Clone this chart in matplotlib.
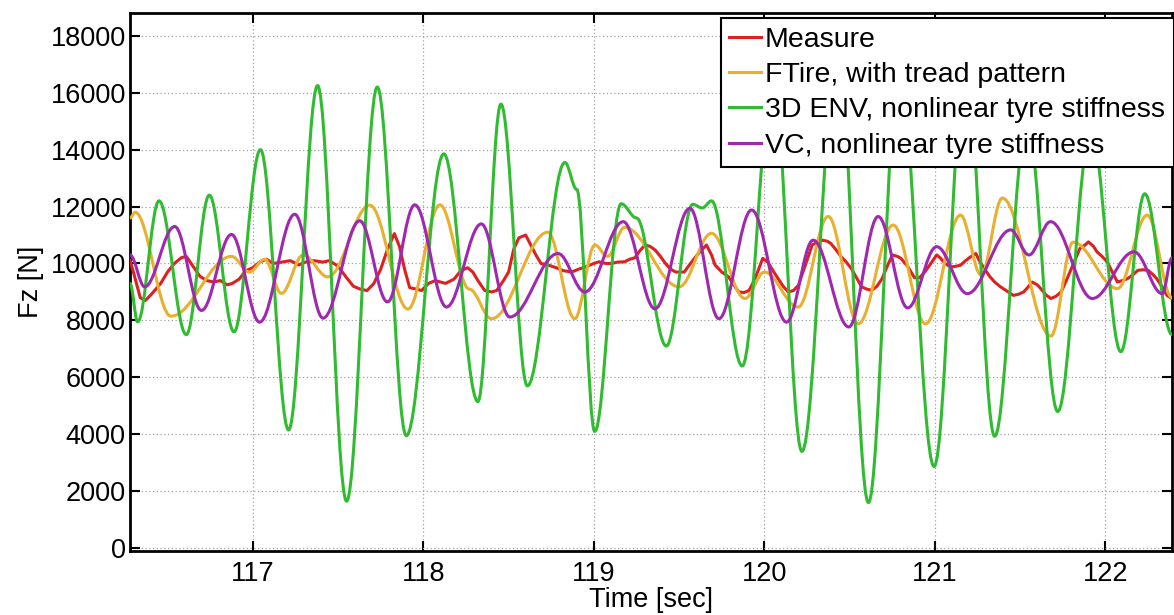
import matplotlib
matplotlib.use("Agg")
import matplotlib.pyplot as plt
from matplotlib.path import Path
from matplotlib.patches import PathPatch
from matplotlib.lines import Line2D

plt.rcParams['font.family'] = ['Liberation Sans', 'DejaVu Sans']

# ---- data: vertical tyre force Fz [N] versus time [s] ----
labels = ["Measure", "FTire, with tread pattern",
          "3D ENV, nonlinear tyre stiffness", "VC, nonlinear tyre stiffness"]
colors = ["#dd2020", "#e8b030", "#30bb30", "#a028b0"]

# measured signal (sampled points)
measure_t = [116.28, 116.30, 116.34, 116.37, 116.41, 116.46, 116.50, 116.54, 116.58, 116.61,
             116.65, 116.69, 116.73, 116.77, 116.81, 116.85, 116.88, 116.92, 116.96, 117.00,
             117.04, 117.08, 117.12, 117.17, 117.22, 117.27, 117.31, 117.36, 117.41, 117.45,
             117.50, 117.55, 117.59, 117.63, 117.67, 117.71, 117.75, 117.79, 117.83, 117.86,
             117.89, 117.92, 117.96, 117.99, 118.03, 118.07, 118.10, 118.13, 118.18, 118.22,
             118.26, 118.29, 118.32, 118.36, 118.40, 118.43, 118.47, 118.50, 118.53, 118.56,
             118.60, 118.63, 118.66, 118.69, 118.73, 118.78, 118.82, 118.87, 118.91, 118.95,
             119.00, 119.03, 119.07, 119.10, 119.14, 119.18, 119.21, 119.24, 119.27, 119.30,
             119.33, 119.36, 119.39, 119.42, 119.45, 119.48, 119.53, 119.56, 119.59, 119.62,
             119.66, 119.69, 119.71, 119.75, 119.79, 119.82, 119.85, 119.88, 119.91, 119.94,
             119.96, 119.99, 120.02, 120.05, 120.08, 120.11, 120.14, 120.17, 120.20, 120.22,
             120.24, 120.26, 120.28, 120.31, 120.34, 120.37, 120.39, 120.42, 120.45, 120.48,
             120.51, 120.54, 120.57, 120.60, 120.63, 120.66, 120.69, 120.72, 120.75, 120.78,
             120.80, 120.84, 120.88, 120.91, 120.94, 120.97, 121.01, 121.03, 121.06, 121.09,
             121.12, 121.15, 121.18, 121.21, 121.24, 121.26, 121.29, 121.32, 121.35, 121.38,
             121.40, 121.43, 121.46, 121.49, 121.52, 121.55, 121.57, 121.60, 121.62, 121.65,
             121.68, 121.71, 121.74, 121.77, 121.80, 121.83, 121.85, 121.88, 121.90, 121.93,
             121.95, 121.98, 122.01, 122.04, 122.07, 122.10, 122.13, 122.16, 122.19, 122.22,
             122.25, 122.28, 122.30, 122.33, 122.36, 122.39]
measure_v = [10100, 9700, 8800, 8700, 8950, 9300, 9700, 10000, 10200, 10250,
             9900, 9550, 9400, 9350, 9400, 9250, 9300, 9450, 9750, 9850,
             10050, 10150, 10000, 10050, 10100, 9950, 10050, 10100, 10050, 10100,
             9900, 9500, 9200, 9100, 9050, 9300, 9800, 10500, 11050, 10600,
             9800, 9150, 9100, 9050, 9300, 9400, 9350, 9300, 9450, 9750,
             9850, 9700, 9400, 9050, 9000, 9050, 9400, 9700, 10500, 10900,
             11000, 10650, 10300, 10000, 9950, 9850, 9750, 9700, 9800, 9880,
             10000, 10060, 10000, 10000, 10050, 10060, 10150, 10200, 10450, 10650,
             10600, 10470, 10250, 10000, 9800, 9700, 9700, 9950, 10180, 10400,
             10650, 10300, 9950, 9700, 9530, 9250, 9000, 8980, 9050, 9400,
             9700, 10180, 10050, 9750, 9470, 9200, 9000, 9050, 9240, 9600,
             9940, 10300, 10650, 10750, 10820, 10780, 10700, 10480, 10240, 10050,
             9820, 9500, 9180, 9100, 9060, 9200, 9470, 9900, 10300, 10250,
             10180, 9900, 9500, 9500, 9700, 9950, 10300, 10200, 10000, 9880,
             9900, 9940, 10100, 10240, 10350, 10100, 9820, 9550, 9350, 9200,
             9120, 9000, 8880, 8920, 9000, 9200, 9350, 9250, 9120, 8900,
             8770, 8850, 9000, 9400, 9820, 10250, 10530, 10650, 10760, 10600,
             10410, 10250, 10060, 9700, 9350, 9400, 9470, 9600, 9760, 9780,
             9760, 9600, 9470, 9200, 8880, 8770]

# simulated signals: turning points (time, force)
ftire_t = [116.28, 116.31, 116.52, 116.875, 116.98, 117.07, 117.168, 117.295, 117.44, 117.686,
           117.91, 118.097, 118.27, 118.40, 118.73, 118.888, 119.006, 119.08, 119.18, 119.50,
           119.69, 119.886, 120.00, 120.198, 120.374, 120.55, 120.755, 120.945, 121.15, 121.27,
           121.395, 121.68, 121.81, 122.07, 122.245, 122.39]
ftire_v = [11600, 11800, 8150, 10250, 9700, 10150, 8950, 10300, 9530, 12050,
           8400, 12060, 9100, 8060, 11100, 8060, 10650, 10250, 11270, 9180,
           11060, 8770, 9700, 8470, 11650, 7880, 11350, 7880, 11700, 9600,
           12300, 7450, 10750, 9120, 11700, 8800]

env_t = [116.28, 116.325, 116.45, 116.61, 116.745, 116.89, 117.045, 117.21, 117.38, 117.55,
         117.73, 117.90, 118.12, 118.32, 118.455, 118.61, 118.83, 118.90, 119.005, 119.16,
         119.25, 119.425, 119.58, 119.635, 119.69, 119.87, 120.05, 120.22, 120.43, 120.61,
         120.79, 120.995, 121.18, 121.35, 121.54, 121.72, 121.915, 122.09, 122.23, 122.39]
env_v = [9300, 7950, 12200, 7500, 12400, 7600, 14000, 4150, 16250, 1650,
         16200, 3950, 13850, 5150, 15600, 5700, 13550, 12600, 4100, 12100,
         11600, 7100, 12080, 11950, 12200, 6400, 16500, 3400, 17500, 1600,
         16800, 2870, 17000, 3930, 15000, 4800, 14700, 6900, 12450, 7500]

vc_t = [116.28, 116.366, 116.542, 116.699, 116.875, 117.04, 117.246, 117.412, 117.627, 117.79,
        117.95, 118.136, 118.34, 118.507, 118.79, 118.947, 119.172, 119.358, 119.563, 119.733,
        119.925, 120.13, 120.286, 120.495, 120.667, 120.84, 121.01, 121.19, 121.444, 121.551,
        121.678, 121.923, 122.167, 122.333, 122.39]
vc_v = [10300, 9180, 11300, 8350, 11020, 7940, 11730, 8080, 11500, 8650,
        12060, 8470, 11390, 8120, 10350, 9000, 11470, 8410, 11940, 8060,
        11880, 7940, 10820, 7770, 11650, 8440, 10590, 8940, 11180, 10300,
        11470, 8770, 10410, 8940, 10200]

x_ticks = [117, 118, 119, 120, 121, 122]
y_ticks = list(range(0, 18001, 2000))


def turning_point_path(ts, vs, k=0.36):
    """Cubic Bezier path with flat tangents at each turning point."""
    verts = [(ts[0], vs[0])]
    codes = [Path.MOVETO]
    for i in range(len(ts) - 1):
        dt = ts[i + 1] - ts[i]
        verts += [(ts[i] + k * dt, vs[i]), (ts[i + 1] - k * dt, vs[i + 1]),
                  (ts[i + 1], vs[i + 1])]
        codes += [Path.CURVE4] * 3
    return Path(verts, codes)


fig = plt.figure(figsize=(11.74, 6.15), dpi=100)
ax = fig.add_axes([130 / 1174, 1 - 551 / 615, 1042 / 1174, 538 / 615])

lw = 2.2
ax.plot(measure_t, measure_v, color=colors[0], lw=lw, zorder=3)
for (ts, vs), col, z in zip([(ftire_t, ftire_v), (env_t, env_v), (vc_t, vc_v)],
                            colors[1:], [4, 5, 6]):
    ax.add_patch(PathPatch(turning_point_path(ts, vs), facecolor="none",
                           edgecolor=col, lw=lw, zorder=z, capstyle="round",
                           joinstyle="round"))

ax.set_xlim(116.28, 122.39)
ax.set_ylim(-100, 18800)
ax.set_xticks(x_ticks)
ax.set_yticks(y_ticks)
ax.set_xticklabels([str(v) for v in x_ticks])
ax.set_yticklabels([str(v) for v in y_ticks])

ax.grid(True, linestyle=(0, (1, 2)), color="#a0a0a0", lw=0.9)
ax.tick_params(direction="in", length=7, width=1.5, top=True, right=True,
               labelsize=19.5, colors="black")
ax.tick_params(axis="x", pad=7)
ax.tick_params(axis="y", pad=3)
for sp in ax.spines.values():
    sp.set_linewidth(2.0)

ax.set_xlabel("Time [sec]", fontsize=19.5, labelpad=0)
ax.set_ylabel("Fz [N]", fontsize=19.5, labelpad=5)

handles = [Line2D([], [], color=c, lw=lw) for c in colors]
leg = ax.legend(handles, labels, loc="upper right",
                bbox_to_anchor=(1.0015, 0.9907), borderaxespad=0.0,
                fontsize=20.5, handlelength=1.1, handletextpad=0.15,
                labelspacing=0.33, borderpad=0.3, fancybox=False,
                framealpha=1.0, edgecolor="black")
leg.get_frame().set_linewidth(1.5)
leg.set_zorder(10)

fig.savefig("out.png", dpi=100)
